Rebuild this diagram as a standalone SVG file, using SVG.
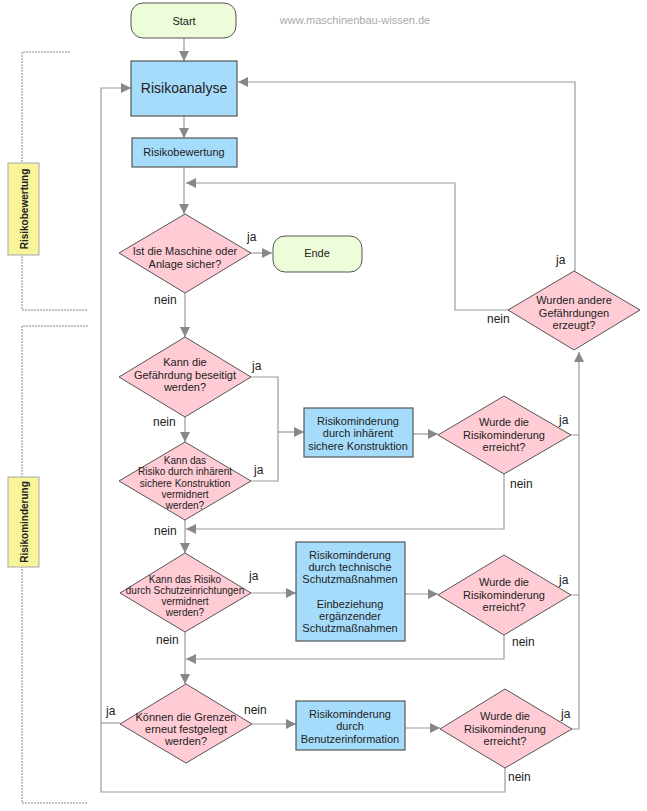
<svg xmlns="http://www.w3.org/2000/svg" width="647" height="811" viewBox="0 0 647 811">
<defs>
<marker id="a" viewBox="0 0 10 10" refX="10" refY="5" markerWidth="10" markerHeight="10" markerUnits="userSpaceOnUse" orient="auto"><path d="M0,0L10,5L0,10z" fill="#888"/></marker>
<style>
text{font-family:"Liberation Sans",Arial,sans-serif;fill:#222;text-anchor:middle}
.d{fill:#ffccd5;stroke:#555;stroke-width:1}
.b{fill:#a6dcfb;stroke:#555;stroke-width:1.2}
.t{fill:#edfcd9;stroke:#555;stroke-width:1}
.y{fill:#f7f49a;stroke:#aaa;stroke-width:1}
.c path{fill:none;stroke:#999;stroke-width:1.2}
.c path.r{marker-end:url(#a)}
.s{font-size:11px}
.x{font-size:10px}
.l{font-size:12px;text-anchor:start}
.br{fill:none;stroke:#888;stroke-width:1;stroke-dasharray:2,1}
</style>
</defs>
<rect width="647" height="811" fill="#fff"/>
<text x="355" y="24" style="font-size:11px;fill:#aaa">www.maschinenbau-wissen.de</text>
<path class="br" d="M70,52H22V310H88M88,326H22V803H88"/>
<g id="lab1"><rect class="y" x="8" y="163" width="31" height="92"/><text transform="translate(28,209) rotate(-90)" style="font-size:10px;font-weight:bold">Risikobewertung</text></g>
<g id="lab2"><rect class="y" x="8" y="477" width="31" height="90"/><text transform="translate(28,522) rotate(-90)" style="font-size:10px;font-weight:bold">Risikominderung</text></g>
<g class="c">
<path class="r" d="M184,38V61"/>
<path class="r" d="M184,116V138"/>
<path class="r" d="M184,167V214"/>
<path class="r" d="M251,253H272"/>
<path class="r" d="M185,293V337"/>
<path class="r" d="M185,417V442"/>
<path d="M251,377H278V481H251"/>
<path class="r" d="M278,432H304"/>
<path class="r" d="M413,434H438"/>
<path class="r" d="M185,520V553"/>
<path class="r" d="M504,474V529H186"/>
<path class="r" d="M251,593H296"/>
<path class="r" d="M405,594H438"/>
<path class="r" d="M185,632V684"/>
<path class="r" d="M504,635V659H186"/>
<path class="r" d="M252,724H296"/>
<path class="r" d="M405,728H440"/>
<path d="M571,435H579M571,595H579"/>
<path class="r" d="M572,729H579V352"/>
<path class="r" d="M505,768V792H101V88H131"/>
<path d="M120,723H101"/>
<path class="r" d="M510,310H455V183H186"/>
<path class="r" d="M575,271V82H238"/>
</g>
<g id="start"><rect class="t" x="131" y="3" width="105" height="35" rx="12"/><text class="s" x="184" y="25">Start</text></g>
<g id="analyse"><rect class="b" x="131" y="61" width="106" height="55"/><text x="184" y="93" style="font-size:14px">Risikoanalyse</text></g>
<g id="bewertung"><rect class="b" x="132" y="138" width="105" height="29"/><text class="s" x="184" y="156">Risikobewertung</text></g>
<g id="d1"><path class="d" d="M119,253L185,214L251,253L185,293z"/><text class="s" x="185" y="255">Ist die Maschine oder</text><text class="s" x="185" y="268">Anlage sicher?</text></g>
<g id="ende"><rect class="t" x="273" y="236" width="89" height="36" rx="12"/><text class="s" x="317" y="257">Ende</text></g>
<g id="d2"><path class="d" d="M119,377L185,337L251,377L185,417z"/><text class="s" x="185" y="366">Kann die</text><text class="s" x="185" y="379">Gefährdung beseitigt</text><text class="s" x="185" y="391">werden?</text></g>
<g id="d3"><path class="d" d="M119,481L185,442L251,481L185,520z"/><text class="x" x="185" y="464">Kann das</text><text class="x" x="185" y="475">Risiko durch inhärent</text><text class="x" x="185" y="487">sichere Konstruktion</text><text class="x" x="185" y="498">vermidnert</text><text class="x" x="185" y="509">werden?</text></g>
<g id="rk1"><rect class="b" x="304" y="408" width="109" height="49"/><text class="s" x="358" y="425">Risikominderung</text><text class="s" x="358" y="437">durch inhärent</text><text class="s" x="358" y="450">sichere Konstruktion</text></g>
<g id="d4"><path class="d" d="M438,435L504,396L571,435L504,474z"/><text class="s" x="504" y="426">Wurde die</text><text class="s" x="504" y="439">Risikominderung</text><text class="s" x="504" y="451">erreicht?</text></g>
<g id="d5"><path class="d" d="M120,593L185,553L251,593L185,632z"/><text class="x" x="185" y="583">Kann das Risiko</text><text class="x" x="185" y="594">durch Schutzeinrichtungen</text><text class="x" x="185" y="605">vermidnert</text><text class="x" x="185" y="616">werden?</text></g>
<g id="rk2"><rect class="b" x="296" y="542" width="109" height="99"/><text class="s" x="350" y="559">Risikominderung</text><text class="s" x="350" y="571">durch technische</text><text class="s" x="350" y="583">Schutzmaßnahmen</text><text class="s" x="350" y="608">Einbeziehung</text><text class="s" x="350" y="620">ergänzender</text><text class="s" x="350" y="632">Schutzmaßnahmen</text></g>
<g id="d6"><path class="d" d="M438,595L504,555L571,595L504,635z"/><text class="s" x="504" y="586">Wurde die</text><text class="s" x="504" y="599">Risikominderung</text><text class="s" x="504" y="611">erreicht?</text></g>
<g id="d7"><path class="d" d="M120,724L186,684L252,724L186,763z"/><text class="s" x="186" y="721">Können die Grenzen</text><text class="s" x="186" y="733">erneut festgelegt</text><text class="s" x="186" y="745">werden?</text></g>
<g id="rk3"><rect class="b" x="296" y="701" width="109" height="49"/><text class="s" x="350" y="718">Risikominderung</text><text class="s" x="350" y="730">durch</text><text class="s" x="350" y="743">Benutzerinformation</text></g>
<g id="d8"><path class="d" d="M440,729L505,689L572,729L505,768z"/><text class="s" x="505" y="720">Wurde die</text><text class="s" x="505" y="733">Risikominderung</text><text class="s" x="505" y="745">erreicht?</text></g>
<g id="d9"><path class="d" d="M508,310L574,271L640,310L574,350z"/><text class="s" x="574" y="304">Wurden andere</text><text class="s" x="574" y="317">Gefährdungen</text><text class="s" x="574" y="329">erzeugt?</text></g>
<g id="labels">
<text class="l" x="247" y="241">ja</text><text class="l" x="154" y="304">nein</text>
<text class="l" x="252" y="370">ja</text><text class="l" x="153" y="426">nein</text>
<text class="l" x="254" y="474">ja</text><text class="l" x="154" y="535">nein</text>
<text class="l" x="559" y="424">ja</text><text class="l" x="510" y="488">nein</text>
<text class="l" x="249" y="580">ja</text><text class="l" x="156" y="644">nein</text>
<text class="l" x="559" y="584">ja</text><text class="l" x="512" y="646">nein</text>
<text class="l" x="106" y="715">ja</text><text class="l" x="244" y="714">nein</text>
<text class="l" x="561" y="718">ja</text><text class="l" x="508" y="781">nein</text>
<text class="l" x="556" y="264">ja</text><text class="l" x="487" y="323">nein</text>
</g>
</svg>
